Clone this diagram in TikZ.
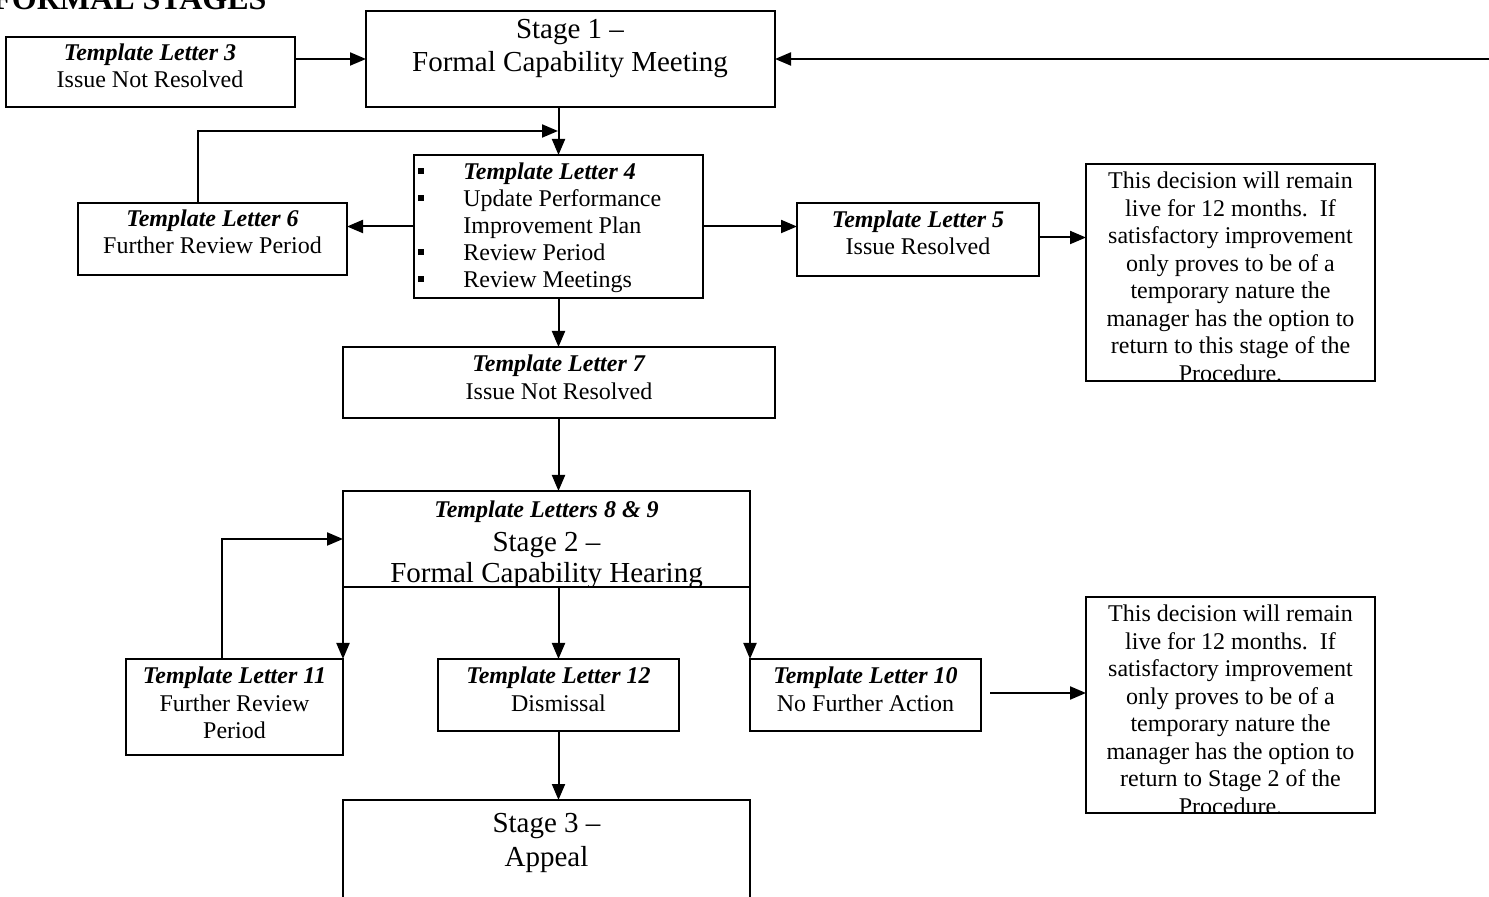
\documentclass[tikz,border=0pt]{standalone}
\usepackage{fontspec}
\setmainfont{Liberation Serif}
\usetikzlibrary{arrows.meta,fit}
\tikzset{
  box/.style={draw, line width=0.9pt, inner sep=0pt, outer sep=0pt},
  arr/.style={-{Triangle[length=8pt,width=6.5pt]}, line width=1pt},
  txt/.style={font=\fontsize{12}{13.75}\selectfont, align=center, inner sep=0pt},
  big/.style={font=\fontsize{14.5}{16.5}\selectfont, inner sep=0pt, anchor=base},
  bil/.style={font=\fontsize{12}{13.75}\selectfont\bfseries\itshape, inner sep=0pt, anchor=base}
}
\newcommand{\bul}{\makebox[22.5pt][l]{\rule[2.5pt]{3pt}{3pt}}}
\newcommand{\nobul}{\makebox[22.5pt][l]{}}
\begin{document}
\begin{tikzpicture}[x=0.5pt,y=-0.5pt]
\useasboundingbox (0,0) rectangle (1489,897);
% title (clipped at top)
\node[anchor=base west, inner sep=0pt, font=\fontsize{16}{19}\selectfont\bfseries] (title) at (-8,10) {FORMAL STAGES};

% boxes
\node[box, fit={(6,37)(295,107)}] (tl3) {};
\node[box, fit={(366,11)(775,107)}] (s1) {};
\node[box, fit={(414,155)(703,298)}] (tl4) {};
\node[box, fit={(78,203)(347,275)}] (tl6) {};
\node[box, fit={(797,203)(1039,276)}] (tl5) {};
\node[box, fit={(1086,164)(1375,381)}] (d1) {};
\node[box, fit={(343,347)(775,418)}] (tl7) {};
\node[box, fit={(343,491)(750,587)}] (s2) {};
\node[box, fit={(126,659)(343,755)}] (tl11) {};
\node[box, fit={(438,659)(679,731)}] (tl12) {};
\node[box, fit={(750,659)(981,731)}] (tl10) {};
\node[box, fit={(1086,597)(1375,813)}] (d2) {};
\node[box, fit={(343,800)(750,960)}] (s3) {};

% texts
\node[txt] (tl3t) at (150,66) {\textbf{\textit{Template Letter 3}}\\Issue Not Resolved};
\node[big] (s1a) at (570,39) {Stage 1 –};
\node[big] (s1b) at (570,72) {Formal Capability Meeting};
\node[txt, align=left, anchor=west, font=\fontsize{12}{13.5}\selectfont] (tl4t) at (418,227.5)
  {\bul\textbf{\textit{Template Letter 4}}\\
   \bul Update Performance\\
   \nobul Improvement Plan\\
   \bul Review Period\\
   \bul Review Meetings};
\node[txt] (tl6t) at (212.5,232) {\textbf{\textit{Template Letter 6}}\\Further Review Period};
\node[txt] (tl5t) at (918,233) {\textbf{\textit{Template Letter 5}}\\Issue Resolved};
\begin{scope}
\clip (d1.south west) rectangle (d1.north east);
\node[txt] (d1t) at (1230.5,277) {This decision will remain\\live for 12 months.~~If\\satisfactory improvement\\only proves to be of a\\temporary nature the\\manager has the option to\\return to this stage of the\\Procedure.};
\end{scope}
\node[txt] (tl7t) at (559,377.5) {\textbf{\textit{Template Letter 7}}\\Issue Not Resolved};
\begin{scope}
\clip (s2.south west) rectangle (s2.north east);
\node[bil] (s2a) at (546.5,518) {Template Letters 8 \& 9};
\node[big] (s2b) at (546.5,552) {Stage 2 –};
\node[big] (s2c) at (546.5,583) {Formal Capability Hearing};
\end{scope}
\node[txt] (tl11t) at (234.5,703) {\textbf{\textit{Template Letter 11}}\\Further Review\\Period};
\node[txt] (tl12t) at (558.5,689.5) {\textbf{\textit{Template Letter 12}}\\Dismissal};
\node[txt] (tl10t) at (865.5,689.5) {\textbf{\textit{Template Letter 10}}\\No Further Action};
\begin{scope}
\clip (d2.south west) rectangle (d2.north east);
\node[txt] (d2t) at (1230.5,710) {This decision will remain\\live for 12 months.~~If\\satisfactory improvement\\only proves to be of a\\temporary nature the\\manager has the option to\\return to Stage 2 of the\\Procedure.};
\end{scope}
\node[big] (s3a) at (546.5,832) {Stage 3 –};
\node[big] (s3b) at (546.5,866) {Appeal};

% connectors
\coordinate (redge) at (1489,59);
\coordinate (j1) at (558,131);
\draw[arr] (s1.west -| tl3.east) -- (s1.west);
\draw[arr] (redge) -- (s1.east);
\draw[arr] (tl4.north |- s1.south) -- (tl4.north);
\draw[arr] ([xshift=-7.25pt]tl6.north) |- (j1);
\draw[arr] (tl4.west) -- (tl4.west -| tl6.east);
\draw[arr] (tl4.east) -- (tl4.east -| tl5.west);
\draw[arr] ([yshift=1pt]tl5.east) -- ([yshift=1pt]tl5.east -| d1.west);
\draw[arr] (tl4.south) -- (tl4.south |- tl7.north);
\draw[arr] (tl4.south |- tl7.south) -- (tl4.south |- s2.north);
\draw[arr] (s2.south west) -- (tl11.north east);
\draw[arr] (tl12.north |- s2.south) -- (tl12.north);
\draw[arr] (s2.south east) -- (tl10.north west);
\draw[arr] ([xshift=-6.25pt]tl11.north) |- (s2.west);
\draw[arr] ([xshift=4.5pt,yshift=1pt]tl10.east) -- ([yshift=1pt]tl10.east -| d2.west);
\draw[arr] (tl12.south) -- (tl12.south |- s3.north);
\end{tikzpicture}
\end{document}
